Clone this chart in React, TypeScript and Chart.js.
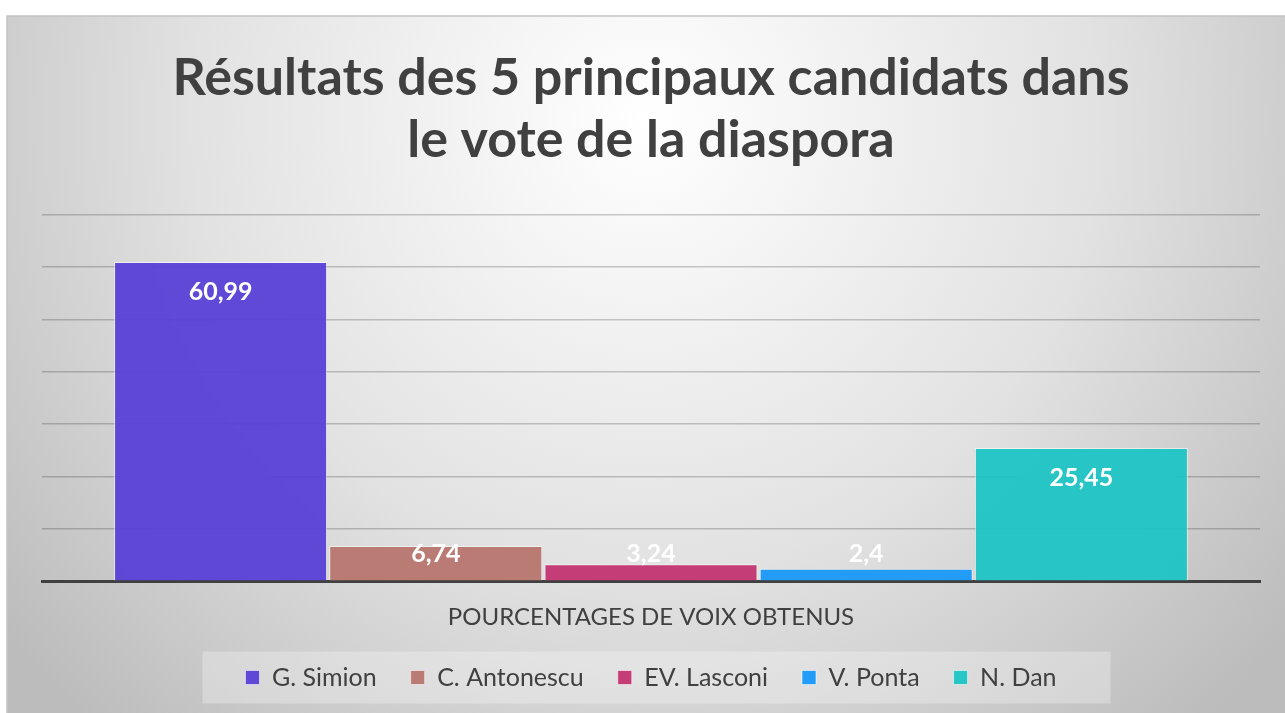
import React, { useEffect, useRef } from 'react';
import { Chart, registerables } from 'chart.js';

Chart.register(...registerables);

const categories = ['POURCENTAGES DE VOIX OBTENUS'];
const candidates = ['G. Simion', 'C. Antonescu', 'EV. Lasconi', 'V. Ponta', 'N. Dan'];
const values = [60.99, 6.74, 3.24, 2.4, 25.45];
const colors = [
  'rgba(88, 64, 214, 0.95)',
  'rgba(184, 120, 112, 0.97)',
  'rgba(196, 56, 116, 0.97)',
  'rgba(28, 154, 248, 0.97)',
  'rgba(30, 196, 196, 0.95)',
];
const yMax = 70;
const yStep = 10;
const titleLines = ['Résultats des 5 principaux candidats dans', 'le vote de la diaspora'];

const FONT = 'Lato, "Open Sans", sans-serif';

const backgroundPlugin = {
  id: 'bgPlugin',
  beforeDraw(chart: any) {
    const ctx = chart.ctx;
    const W = chart.width;
    const H = chart.height;
    ctx.save();
    ctx.fillStyle = '#ffffff';
    ctx.fillRect(0, 0, W, H);
    const fx = 7, fy = 16;
    const g = ctx.createRadialGradient(646, 120, 0, 646, 120, 820);
    g.addColorStop(0, '#ffffff');
    g.addColorStop(0.55, '#e2e2e2');
    g.addColorStop(1, '#bcbcbc');
    ctx.fillStyle = g;
    ctx.fillRect(fx, fy, W - fx, H - fy);
    ctx.strokeStyle = '#c4c4c4';
    ctx.lineWidth = 1.5;
    ctx.beginPath();
    ctx.moveTo(fx, H);
    ctx.lineTo(fx, fy);
    ctx.lineTo(W, fy);
    ctx.stroke();
    // legend box
    const lg = chart.legend;
    if (lg && lg.legendHitBoxes && lg.legendHitBoxes.length) {
      const hb = lg.legendHitBoxes;
      let l = Infinity, r = -Infinity, cy = 0;
      hb.forEach((b: any) => {
        l = Math.min(l, b.left);
        r = Math.max(r, b.left + b.width);
        cy = b.top + b.height / 2;
      });
      ctx.fillStyle = 'rgba(255,255,255,0.28)';
      ctx.fillRect(l - 43, cy - 26, r - l + 97, 52);
    }
    ctx.restore();
  },
};

const labelPlugin = {
  id: 'valueLabels',
  afterDatasetsDraw(chart: any) {
    const ctx = chart.ctx;
    ctx.save();
    ctx.font = `bold 25px ${FONT}`;
    ctx.fillStyle = '#ffffff';
    ctx.textAlign = 'center';
    ctx.textBaseline = 'middle';
    chart.data.datasets.forEach((ds: any, i: number) => {
      const meta = chart.getDatasetMeta(i);
      meta.data.forEach((el: any, j: number) => {
        const v = ds.data[j];
        const y = Math.min(el.y + 30, el.base - 27);
        ctx.fillText(String(v).replace('.', ','), el.x, y);
      });
    });
    ctx.restore();
  },
};

export default function App() {
  const ref = useRef<HTMLCanvasElement>(null);
  useEffect(() => {
    if (!ref.current) return;
    const chart = new Chart(ref.current, {
      type: 'bar',
      data: {
        labels: categories,
        datasets: candidates.map((name, i) => ({
          label: name,
          data: [values[i]],
          backgroundColor: colors[i],
          borderColor: 'rgba(255,255,255,0.55)',
          borderWidth: 1,
          barPercentage: 0.99,
          categoryPercentage: 0.8834,
        })),
      },
      options: {
        responsive: false,
        animation: false,
        devicePixelRatio: 1,
        layout: { padding: { left: 42, right: 25, top: 47, bottom: 13 } },
        plugins: {
          title: {
            display: true,
            text: titleLines,
            color: '#404040',
            font: { family: FONT, weight: 'bold', size: 52, lineHeight: 1.19 },
            padding: { top: 0, bottom: 44 },
          },
          legend: {
            position: 'bottom',
            labels: {
              boxWidth: 14,
              boxHeight: 14,
              padding: 34,
              color: '#404040',
              font: { family: FONT, size: 25 },
            },
          },
          tooltip: { enabled: false },
        },
        scales: {
          x: {
            grid: { display: false, drawTicks: false },
            border: { display: true, color: '#404040', width: 3 },
            ticks: {
              color: '#404040',
              padding: 22,
              font: { family: FONT, size: 24 },
            },
            afterFit: (s: any) => {
              s.height -= 23;
            },
          },
          y: {
            min: 0,
            max: yMax,
            ticks: { display: false, stepSize: yStep },
            grid: { color: 'rgba(0,0,0,0.2)', lineWidth: 1.5, drawTicks: false },
            border: { display: false },
            afterFit: (s: any) => {
              s.width = 0;
            },
          },
        },
      },
      plugins: [backgroundPlugin, labelPlugin],
    });
    return () => chart.destroy();
  }, []);
  return (
    <canvas
      ref={ref}
      width={1285}
      height={713}
      style={{ position: 'fixed', left: 0, top: 0, width: 1285, height: 713 }}
    />
  );
}
